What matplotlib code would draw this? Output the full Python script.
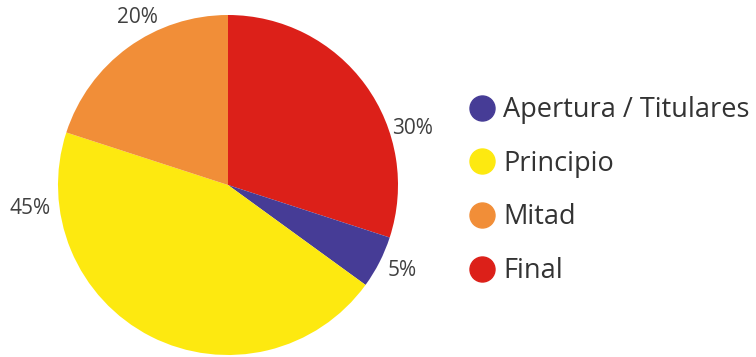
import matplotlib
matplotlib.use("Agg")
import matplotlib.pyplot as plt
from matplotlib.lines import Line2D

plt.rcParams['font.family'] = ['Open Sans', 'DejaVu Sans']

# slices, drawn clockwise from 12 o'clock
labels = ['Final', 'Apertura / Titulares', 'Principio', 'Mitad']
values = [30, 5, 45, 20]
colors = ['#DC2019', '#463C96', '#FDE910', '#F18E38']

# legend order
legend_order = ['Apertura / Titulares', 'Principio', 'Mitad', 'Final']

# where each percentage sits (data units, radius = 1)
pct_pos = {
    'Final': (1.088, 0.335),
    'Apertura / Titulares': (1.024, -0.50),
    'Principio': (-1.165, -0.141),
    'Mitad': (-0.535, 0.988),
}

fig = plt.figure(figsize=(7.56, 3.57), dpi=100)
ax = fig.add_axes([58 / 756, 2 / 357, 340 / 756, 340 / 357])

wedges, _ = ax.pie(values, colors=colors, startangle=90, counterclock=False,
                   radius=1, wedgeprops=dict(linewidth=0))
ax.set_xlim(-1, 1)
ax.set_ylim(-1, 1)
ax.set_aspect('equal')
ax.axis('off')

for lab, val in zip(labels, values):
    x, y = pct_pos[lab]
    ax.text(x, y, f'{val}%', ha='center', va='center', fontsize=15,
            color='#404040', clip_on=False)

handles = []
for lab in legend_order:
    c = colors[labels.index(lab)]
    handles.append(Line2D([], [], marker='o', linestyle='none', markersize=18,
                          markerfacecolor=c, markeredgecolor=c))

fig.legend(handles, legend_order, loc='upper left',
           bbox_to_anchor=(470 / 756, 1 - 96 / 357), frameon=False,
           fontsize=19.5, labelcolor='#333333', handlelength=0.9,
           handletextpad=0.33, labelspacing=0.95, borderpad=0, borderaxespad=0)

fig.savefig('out.png', dpi=100)
